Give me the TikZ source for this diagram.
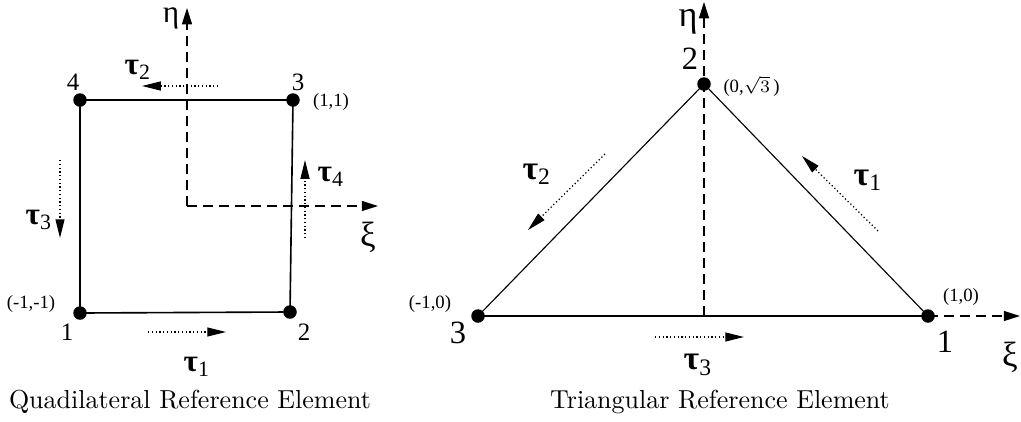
\documentclass[tikz,border=0pt]{standalone}
\usepackage{fontspec}
\newfontfamily\timesfont{Liberation Serif}
\usetikzlibrary{arrows.meta}
\newcommand{\tauvec}[1]{{\bfseries τ}\textsubscript{#1}}
\newcommand{\fs}[1]{\fontsize{#1}{#1}\selectfont}

\begin{document}
\begin{tikzpicture}[x=0.4pt, y=-0.4pt,
    every node/.style={inner sep=0pt, align=center},
    vertex/.style={circle, fill, minimum size=5.4pt},
    edge/.style={line width=0.65pt},
    thinedge/.style={line width=0.45pt},
    axis/.style={line width=0.5pt, dash pattern=on 4pt off 2.4pt, -{Triangle[length=6.5pt, width=4pt]}},
    tangent/.style={line width=0.5pt, dash pattern=on 0.5pt off 1pt, -{Triangle[length=7.5pt, width=3.6pt]}},
    lbl/.style={font=\timesfont\fs{#1}},
    coordlbl/.style={font=\timesfont\fs{7.5}},
    caption/.style={font=\fs{10.4}}]
    \useasboundingbox (0,0) rectangle (1021,421);

    % quadrilateral reference element
    \node[vertex] (q1) at (80,313) {};
    \node[vertex] (q2) at (290,312) {};
    \node[vertex] (q3) at (293,100) {};
    \node[vertex] (q4) at (80,100) {};
    \draw[edge] (q1.center) -- (q2.center) -- (q3.center) -- (q4.center) -- cycle;

    \coordinate (qo) at (187,206);
    \coordinate (qeta) at (187,8);
    \coordinate (qxi) at (378,206);
    \draw[axis] (qo) -- (qeta);
    \draw[axis] (qo) -- (qxi);
    \node[lbl=12.5, anchor=base] (qetalbl) at (171,22) {η};
    \node[lbl=14] (qxilbl) at (368,237) {ξ};

    \node[lbl=10] (q1lbl) at (67,332) {1};
    \node[lbl=10] (q2lbl) at (304,332) {2};
    \node[lbl=10] (q3lbl) at (298,82) {3};
    \node[lbl=10] (q4lbl) at (73,82) {4};
    \node[coordlbl] (q1pos) at (31,304) {(-1,-1)};
    \node[coordlbl] (q3pos) at (331,102) {(1,1)};

    \coordinate (qa1) at (148,332);
    \coordinate (qb1) at (226,332);
    \coordinate (qa2) at (218,86);
    \coordinate (qb2) at (142,86);
    \coordinate (qa3) at (60,160);
    \coordinate (qb3) at (60,238);
    \coordinate (qa4) at (305,238);
    \coordinate (qb4) at (305,160);
    \draw[tangent] (qa1) -- (qb1);
    \draw[tangent] (qa2) -- (qb2);
    \draw[tangent] (qa3) -- (qb3);
    \draw[tangent] (qa4) -- (qb4);
    \node[lbl=12.5] (qtau1) at (197,367) {\tauvec{1}};
    \node[lbl=12.5] (qtau2) at (138,70) {\tauvec{2}};
    \node[lbl=12.5] (qtau3) at (39,220) {\tauvec{3}};
    \node[lbl=12.5] (qtau4) at (331,177) {\tauvec{4}};

    \node[caption] (qcap) at (190,402) {Quadilateral Reference Element};

    % triangular reference element
    \node[vertex] (t1) at (928,316) {};
    \node[vertex] (t2) at (704,84) {};
    \node[vertex] (t3) at (478,316) {};
    \draw[thinedge] (t1.center) -- (t2.center) -- (t3.center);
    \draw[edge] (t3.center) -- (t1.center);

    \coordinate (to) at (704,316);
    \coordinate (teta) at (704,2);
    \coordinate (txi) at (1020,316);
    \draw[axis] (to) -- (teta);
    \draw[axis] (to) -- (txi);
    \node[lbl=14.5, anchor=base] (tetalbl) at (688,26) {η};
    \node[lbl=14] (txilbl) at (1010,357) {ξ};

    \node[lbl=13] (t1lbl) at (945,342) {1};
    \node[lbl=13] (t2lbl) at (690,59) {2};
    \node[lbl=13] (t3lbl) at (458,333) {3};
    \node[coordlbl] (t1pos) at (961,297) {(1,0)};
    \node[coordlbl, anchor=west] (t2pos) at (723,86) {(0,$\sqrt{3}$\,)};
    \node[coordlbl] (t3pos) at (430,304) {(-1,0)};

    \coordinate (ta1) at (878,231);
    \coordinate (tb1) at (802,156);
    \coordinate (ta2) at (605,154);
    \coordinate (tb2) at (528,230);
    \coordinate (ta3) at (655,337);
    \coordinate (tb3) at (744,337);
    \draw[tangent] (ta1) -- (tb1);
    \draw[tangent] (ta2) -- (tb2);
    \draw[tangent] (ta3) -- (tb3);
    \node[lbl=13.5] (ttau1) at (868,180) {\tauvec{1}};
    \node[lbl=13.5] (ttau2) at (537,174) {\tauvec{2}};
    \node[lbl=13.5] (ttau3) at (698,365) {\tauvec{3}};

    \node[caption] (tcap) at (720,402) {Triangular Reference Element};
\end{tikzpicture}
\end{document}
